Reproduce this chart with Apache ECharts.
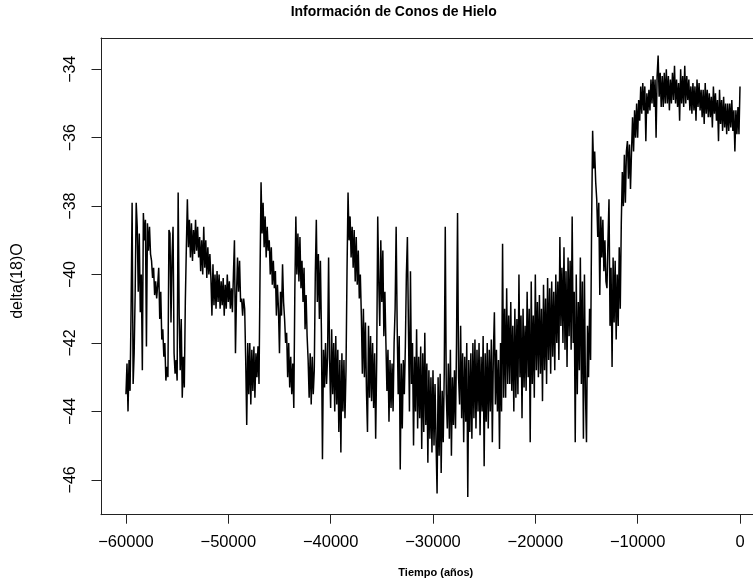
<!DOCTYPE html>
<html><head><meta charset="utf-8">
<script src="https://cdn.jsdelivr.net/npm/echarts@6/dist/echarts.min.js"></script>
<style>html,body{margin:0;padding:0;background:#fff}#c{width:753px;height:584px}</style>
</head><body><div id="c"></div>
<script>
const years = [
-60000,-59900,-59800,-59700,-59600,-59500,-59400,-59300,-59200,-59100,
-59000,-58900,-58800,-58700,-58600,-58500,-58400,-58300,-58200,-58100,
-58000,-57900,-57800,-57700,-57600,-57500,-57400,-57300,-57200,-57100,
-57000,-56900,-56800,-56700,-56600,-56500,-56400,-56300,-56200,-56100,
-56000,-55900,-55800,-55700,-55600,-55500,-55400,-55300,-55200,-55100,
-55000,-54900,-54800,-54700,-54600,-54500,-54400,-54300,-54200,-54100,
-54000,-53900,-53800,-53700,-53600,-53500,-53400,-53300,-53200,-53100,
-53000,-52900,-52800,-52700,-52600,-52500,-52400,-52300,-52200,-52100,
-52000,-51900,-51800,-51700,-51600,-51500,-51400,-51300,-51200,-51100,
-51000,-50900,-50800,-50700,-50600,-50500,-50400,-50300,-50200,-50100,
-50000,-49900,-49800,-49700,-49600,-49500,-49400,-49300,-49200,-49100,
-49000,-48900,-48800,-48700,-48600,-48500,-48400,-48300,-48200,-48100,
-48000,-47900,-47800,-47700,-47600,-47500,-47400,-47300,-47200,-47100,
-47000,-46900,-46800,-46700,-46600,-46500,-46400,-46300,-46200,-46100,
-46000,-45900,-45800,-45700,-45600,-45500,-45400,-45300,-45200,-45100,
-45000,-44900,-44800,-44700,-44600,-44500,-44400,-44300,-44200,-44100,
-44000,-43900,-43800,-43700,-43600,-43500,-43400,-43300,-43200,-43100,
-43000,-42900,-42800,-42700,-42600,-42500,-42400,-42300,-42200,-42100,
-42000,-41900,-41800,-41700,-41600,-41500,-41400,-41300,-41200,-41100,
-41000,-40900,-40800,-40700,-40600,-40500,-40400,-40300,-40200,-40100,
-40000,-39900,-39800,-39700,-39600,-39500,-39400,-39300,-39200,-39100,
-39000,-38900,-38800,-38700,-38600,-38500,-38400,-38300,-38200,-38100,
-38000,-37900,-37800,-37700,-37600,-37500,-37400,-37300,-37200,-37100,
-37000,-36900,-36800,-36700,-36600,-36500,-36400,-36300,-36200,-36100,
-36000,-35900,-35800,-35700,-35600,-35500,-35400,-35300,-35200,-35100,
-35000,-34900,-34800,-34700,-34600,-34500,-34400,-34300,-34200,-34100,
-34000,-33900,-33800,-33700,-33600,-33500,-33400,-33300,-33200,-33100,
-33000,-32900,-32800,-32700,-32600,-32500,-32400,-32300,-32200,-32100,
-32000,-31900,-31800,-31700,-31600,-31500,-31400,-31300,-31200,-31100,
-31000,-30900,-30800,-30700,-30600,-30500,-30400,-30300,-30200,-30100,
-30000,-29900,-29800,-29700,-29600,-29500,-29400,-29300,-29200,-29100,
-29000,-28900,-28800,-28700,-28600,-28500,-28400,-28300,-28200,-28100,
-28000,-27900,-27800,-27700,-27600,-27500,-27400,-27300,-27200,-27100,
-27000,-26900,-26800,-26700,-26600,-26500,-26400,-26300,-26200,-26100,
-26000,-25900,-25800,-25700,-25600,-25500,-25400,-25300,-25200,-25100,
-25000,-24900,-24800,-24700,-24600,-24500,-24400,-24300,-24200,-24100,
-24000,-23900,-23800,-23700,-23600,-23500,-23400,-23300,-23200,-23100,
-23000,-22900,-22800,-22700,-22600,-22500,-22400,-22300,-22200,-22100,
-22000,-21900,-21800,-21700,-21600,-21500,-21400,-21300,-21200,-21100,
-21000,-20900,-20800,-20700,-20600,-20500,-20400,-20300,-20200,-20100,
-20000,-19900,-19800,-19700,-19600,-19500,-19400,-19300,-19200,-19100,
-19000,-18900,-18800,-18700,-18600,-18500,-18400,-18300,-18200,-18100,
-18000,-17900,-17800,-17700,-17600,-17500,-17400,-17300,-17200,-17100,
-17000,-16900,-16800,-16700,-16600,-16500,-16400,-16300,-16200,-16100,
-16000,-15900,-15800,-15700,-15600,-15500,-15400,-15300,-15200,-15100,
-15000,-14900,-14800,-14700,-14600,-14500,-14400,-14300,-14200,-14100,
-14000,-13900,-13800,-13700,-13600,-13500,-13400,-13300,-13200,-13100,
-13000,-12900,-12800,-12700,-12600,-12500,-12400,-12300,-12200,-12100,
-12000,-11900,-11800,-11700,-11600,-11500,-11400,-11300,-11200,-11100,
-11000,-10900,-10800,-10700,-10600,-10500,-10400,-10300,-10200,-10100,
-10000,-9900,-9800,-9700,-9600,-9500,-9400,-9300,-9200,-9100,
-9000,-8900,-8800,-8700,-8600,-8500,-8400,-8300,-8200,-8100,
-8000,-7900,-7800,-7700,-7600,-7500,-7400,-7300,-7200,-7100,
-7000,-6900,-6800,-6700,-6600,-6500,-6400,-6300,-6200,-6100,
-6000,-5900,-5800,-5700,-5600,-5500,-5400,-5300,-5200,-5100,
-5000,-4900,-4800,-4700,-4600,-4500,-4400,-4300,-4200,-4100,
-4000,-3900,-3800,-3700,-3600,-3500,-3400,-3300,-3200,-3100,
-3000,-2900,-2800,-2700,-2600,-2500,-2400,-2300,-2200,-2100,
-2000,-1900,-1800,-1700,-1600,-1500,-1400,-1300,-1200,-1100,
-1000,-900,-800,-700,-600,-500,-400,-300,-200,-100,
0
];
const d18O = [
-43.5,-42.6,-44.0,-42.5,-43.4,-41.0,-37.9,-43.2,-42.3,-40.5,
-37.9,-38.6,-40.5,-38.8,-41.1,-40.0,-42.8,-38.2,-39.0,-38.4,
-42.1,-38.5,-39.3,-38.6,-39.4,-39.6,-40.1,-39.8,-40.6,-40.2,
-40.7,-40.3,-39.8,-41.3,-40.5,-41.9,-41.6,-42.4,-42.0,-43.1,
-42.7,-43.0,-38.7,-38.8,-41.4,-39.5,-38.6,-42.3,-42.9,-42.5,
-43.1,-37.6,-41.2,-42.8,-41.3,-43.6,-42.4,-43.3,-40.8,-39.2,
-37.8,-39.2,-38.4,-39.5,-38.5,-39.6,-38.7,-39.4,-38.4,-39.3,
-38.6,-39.5,-38.9,-39.9,-39.0,-40.0,-38.6,-39.8,-39.0,-40.1,
-39.2,-40.0,-39.4,-40.1,-41.2,-39.7,-40.9,-40.0,-41.0,-39.9,
-40.8,-40.0,-41.0,-40.2,-40.9,-40.1,-41.2,-40.3,-41.0,-40.0,
-40.8,-40.2,-41.0,-40.4,-41.1,-40.0,-39.0,-42.3,-40.6,-39.5,
-40.5,-39.6,-40.8,-40.7,-41.2,-40.7,-41.0,-42.5,-44.4,-42.0,
-43.5,-42.0,-43.8,-42.2,-43.4,-42.1,-43.6,-42.3,-43.0,-42.1,
-43.2,-40.0,-37.3,-38.8,-37.9,-39.2,-38.3,-39.5,-38.6,-39.3,
-39.0,-40.0,-39.2,-40.3,-39.6,-40.4,-39.9,-41.2,-40.3,-41.0,
-42.3,-40.5,-41.2,-39.7,-40.8,-41.3,-42.0,-41.7,-43.0,-42.0,
-43.3,-42.4,-43.5,-42.6,-43.9,-40.5,-38.3,-40.0,-38.8,-40.2,
-38.9,-40.4,-39.6,-40.8,-39.8,-41.6,-40.6,-41.8,-42.5,-43.6,
-42.3,-43.8,-42.4,-43.5,-42.8,-40.0,-38.4,-40.8,-39.4,-41.3,
-39.6,-41.7,-45.4,-42.2,-43.3,-42.0,-43.2,-42.4,-39.5,-42.5,
-43.9,-41.6,-43.5,-42.0,-44.0,-41.8,-43.8,-42.2,-44.6,-42.5,
-45.2,-42.3,-44.0,-42.5,-44.2,-42.8,-39.9,-37.6,-39.0,-38.3,
-39.5,-38.6,-39.8,-38.7,-40.2,-38.9,-40.3,-39.3,-40.7,-40.0,
-41.2,-42.9,-41.0,-43.0,-41.4,-43.4,-44.6,-41.5,-43.6,-41.8,
-43.7,-42.0,-43.9,-42.3,-44.8,-42.5,-38.3,-40.2,-41.5,-39.0,
-40.8,-39.3,-41.8,-40.5,-42.0,-43.4,-42.2,-44.3,-42.5,-43.9,
-42.6,-44.0,-42.0,-41.0,-38.6,-41.5,-43.5,-41.8,-45.7,-42.6,
-44.5,-42.5,-43.5,-42.1,-40.0,-38.9,-41.5,-44.0,-39.9,-43.2,
-42.0,-45.0,-42.4,-44.0,-41.6,-44.5,-42.4,-44.2,-42.1,-45.1,
-42.3,-44.6,-41.7,-44.4,-42.6,-45.5,-42.8,-44.8,-43.0,-45.2,
-42.8,-45.0,-43.2,-44.9,-46.4,-43.0,-45.3,-42.9,-45.8,-43.4,
-44.9,-42.9,-38.6,-43.5,-44.5,-42.6,-44.8,-42.2,-45.3,-43.0,
-44.4,-42.8,-44.5,-42.0,-38.2,-43.0,-43.8,-41.5,-44.2,-42.3,
-44.9,-42.4,-44.3,-42.0,-46.5,-42.5,-44.6,-42.3,-44.8,-42.0,
-44.2,-41.9,-44.5,-42.2,-44.0,-42.0,-44.7,-42.4,-44.0,-41.8,
-45.6,-42.3,-44.3,-42.0,-44.5,-42.2,-44.0,-41.9,-44.9,-42.3,
-41.1,-43.8,-42.2,-44.0,-42.5,-45.1,-42.0,-44.0,-39.1,-43.6,
-41.0,-43.6,-40.4,-43.2,-41.2,-43.2,-40.8,-43.4,-41.5,-44.0,
-41.0,-43.6,-41.3,-43.5,-40.0,-43.0,-41.2,-44.2,-41.0,-43.3,
-41.5,-43.4,-40.5,-43.0,-41.0,-44.9,-40.2,-43.2,-41.2,-43.6,
-40.0,-42.8,-40.8,-43.0,-40.6,-42.9,-41.0,-43.7,-40.3,-42.8,
-40.7,-43.2,-40.1,-42.5,-40.4,-42.9,-40.2,-42.4,-40.5,-42.8,
-40.0,-42.0,-40.2,-42.5,-38.9,-41.5,-39.8,-42.0,-39.2,-42.2,
-39.9,-42.7,-39.5,-41.8,-39.6,-42.2,-38.3,-42.0,-40.5,-44.9,
-40.0,-43.5,-40.8,-42.8,-39.5,-43.2,-40.2,-44.8,-40.0,-43.5,
-44.9,-41.5,-43.0,-41.0,-42.5,-38.5,-35.8,-36.9,-36.4,-37.3,
-37.8,-38.9,-37.9,-40.6,-38.3,-39.5,-38.4,-39.9,-39.0,-40.2,
-40.4,-39.0,-37.8,-41.5,-39.8,-42.7,-39.5,-41.4,-39.6,-41.9,
-40.0,-41.5,-39.2,-41.0,-38.5,-37.0,-38.0,-36.5,-37.9,-36.4,
-36.1,-37.2,-36.2,-37.5,-36.4,-35.4,-36.4,-35.2,-36.0,-35.0,
-36.0,-34.9,-35.5,-34.5,-35.3,-34.4,-35.2,-34.5,-36.1,-34.7,
-35.3,-34.6,-35.2,-34.3,-35.0,-34.2,-35.1,-34.3,-36.0,-34.2,
-33.6,-34.8,-34.1,-35.1,-34.2,-35.1,-34.1,-35.0,-34.0,-35.0,
-34.2,-35.2,-34.3,-35.0,-34.1,-34.9,-33.9,-35.0,-34.3,-35.1,
-34.4,-35.5,-34.0,-35.0,-34.2,-35.1,-33.9,-35.0,-34.2,-34.9,
-34.3,-35.2,-34.5,-35.3,-34.4,-35.2,-34.5,-35.5,-34.3,-35.1,
-34.4,-35.2,-34.6,-35.4,-34.6,-35.6,-34.4,-35.3,-34.6,-35.4,
-34.7,-35.4,-34.8,-35.7,-34.5,-35.3,-34.7,-35.5,-34.9,-36.1,
-34.6,-35.6,-34.9,-35.8,-34.8,-35.7,-35.0,-35.9,-35.0,-35.8,
-35.0,-35.7,-34.9,-35.8,-35.2,-36.4,-35.2,-35.9,-35.1,-35.9,
-34.5
];
const xTicks = [-60000,-50000,-40000,-30000,-20000,-10000,0];
const yTicks = [-46,-44,-42,-40,-38,-36,-34];
const titleText = 'Información de Conos de Hielo';
const xName = 'Tiempo (años)';
const yName = 'delta(18)O';

const points = years.map((y, i) => [y, d18O[i]]);
const minus = v => String(v).replace('-', '\u2212');
const FONT = 'Liberation Sans, Arial, Helvetica, sans-serif';
const AXC = '#222';

const chart = echarts.init(document.getElementById('c'), null, {renderer: 'canvas'});
chart.setOption({
  animation: false,
  backgroundColor: '#fff',
  grid: {left: 101, top: 38, right: 0, bottom: 69.3, show: false},
  xAxis: [{
    type: 'value', min: -62440, max: 1270, position: 'bottom',
    axisLine: {show: true, onZero: false, lineStyle: {color: AXC, width: 1}},
    splitLine: {show: false},
    axisTick: {show: true, customValues: xTicks, length: 9, lineStyle: {color: AXC, width: 1}},
    axisLabel: {customValues: xTicks, formatter: minus, fontSize: 16.5, margin: 19, color: '#000', fontFamily: FONT}
  }, {
    type: 'value', min: -62440, max: 1270, position: 'top',
    axisLine: {show: true, onZero: false, lineStyle: {color: AXC, width: 1}},
    splitLine: {show: false}, axisTick: {show: false}, axisLabel: {show: false}
  }],
  yAxis: {
    type: 'value', min: -47.02, max: -33.085,
    axisLine: {show: true, onZero: false, lineStyle: {color: AXC, width: 1}},
    splitLine: {show: false},
    axisTick: {show: true, customValues: yTicks, length: 9.5, lineStyle: {color: AXC, width: 1}},
    axisLabel: {customValues: yTicks, formatter: minus, rotate: 90, fontSize: 16, margin: 22, color: '#000', fontFamily: FONT}
  },
  graphic: [
    {type: 'text', x: 393.7, y: 12.5, style: {text: titleText, fill: '#000', font: 'bold 14px ' + FONT, textAlign: 'center', textVerticalAlign: 'middle'}},
    {type: 'text', x: 435.8, y: 572.5, style: {text: xName, fill: '#000', font: 'bold 11px ' + FONT, textAlign: 'center', textVerticalAlign: 'middle'}},
    {type: 'text', x: 18, y: 281, rotation: Math.PI / 2, style: {text: yName, fill: '#000', font: '16px ' + FONT, textAlign: 'center', textVerticalAlign: 'middle'}}
  ],
  series: [{
    type: 'line', xAxisIndex: 0, data: points, showSymbol: false, symbol: 'none',
    lineStyle: {color: '#000', width: 1.5}, clip: true
  }]
});
</script>
</body></html>
